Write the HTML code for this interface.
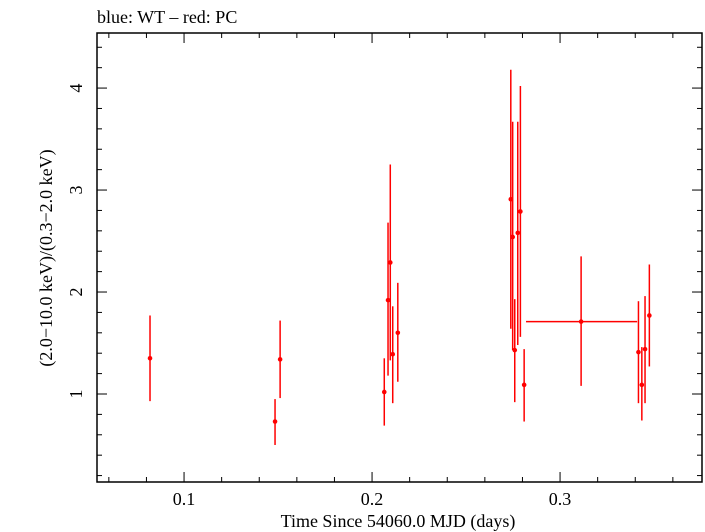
<!DOCTYPE html>
<html><head><meta charset="utf-8"><style>
body{margin:0;background:#fff}
svg{display:block;font-family:"Liberation Serif",serif}
</style></head><body>
<svg id="chart" width="705" height="532">
<text x="97" y="23" font-size="18">blue: WT – red: PC</text>
<rect x="97" y="33" width="605" height="449" fill="none" stroke="#000" stroke-width="1.5"/>
<g id="axes"></g>
<g id="marks"></g>
<text x="398" y="527" font-size="18" text-anchor="middle">Time Since 54060.0 MJD (days)</text>
<text transform="translate(52,258) rotate(-90)" font-size="18" text-anchor="middle">(2.0−10.0 keV)/(0.3−2.0 keV)</text>
</svg>
<script>
const times=[0.0819,0.1484,0.1511,0.2065,0.2085,0.2097,0.2110,0.2137,0.2738,0.2748,0.2759,0.2775,0.2789,0.2809,0.3112,0.3417,0.3435,0.3452,0.3475];
const tLo=[0.0814,0.1479,0.1506,0.2060,0.2080,0.2092,0.2105,0.2132,0.2733,0.2743,0.2754,0.2770,0.2784,0.2804,0.2819,0.3412,0.3430,0.3447,0.3470];
const tHi=[0.0824,0.1489,0.1516,0.2070,0.2090,0.2102,0.2115,0.2142,0.2743,0.2753,0.2764,0.2780,0.2794,0.2814,0.3410,0.3422,0.3440,0.3457,0.3480];
const ratio=[1.35,0.73,1.34,1.02,1.92,2.29,1.39,1.60,2.91,2.54,1.43,2.58,2.79,1.09,1.71,1.41,1.09,1.44,1.77];
const rLo=[0.93,0.50,0.96,0.69,1.18,1.33,0.91,1.12,1.64,1.43,0.92,1.48,1.56,0.73,1.08,0.91,0.74,0.91,1.27];
const rHi=[1.77,0.95,1.72,1.35,2.68,3.25,1.86,2.09,4.18,3.67,1.93,3.67,4.02,1.44,2.35,1.91,1.46,1.96,2.27];
const xTicks=[0.1,0.2,0.3];
const xTickLabels=["0.1","0.2","0.3"];
const yTicks=[1,2,3,4];
const yTickLabels=["1","2","3","4"];
const L=97,R=702,T=33,B=482;
const xMin=0.0537,xMax=0.3755,yMin=0.137,yMax=4.54;
const X=v=>L+(v-xMin)/(xMax-xMin)*(R-L);
const Y=v=>B-(v-yMin)/(yMax-yMin)*(B-T);
const NS="http://www.w3.org/2000/svg";
function mk(tag,attrs,parent){const e=document.createElementNS(NS,tag);for(const k in attrs)e.setAttribute(k,attrs[k]);parent.appendChild(e);return e;}
const ax=document.getElementById('axes'),mg=document.getElementById('marks');
for(let v=0.06;v<=0.3751;v+=0.02){const vv=Math.round(v*100)/100;const major=Math.abs(vv*10-Math.round(vv*10))<1e-6;const len=major?10:5;const x=X(vv);
const t1=mk('line',{x1:x,x2:x,y1:B,y2:B-len,stroke:'#000','stroke-width':1},ax);


const t2=mk('line',{x1:x,x2:x,y1:T,y2:T+len,stroke:'#000','stroke-width':1},ax);

}
xTicks.forEach((v,i)=>{const t=mk('text',{x:X(v),y:B+23,'font-size':18,'text-anchor':'middle'},ax);t.textContent=xTickLabels[i];

});
for(let v=0.2;v<=4.5;v+=0.2){const vv=Math.round(v*10)/10;const major=Math.abs(vv-Math.round(vv))<1e-6;const len=major?10:5;const y=Y(vv);
const t1=mk('line',{x1:L,x2:L+len,y1:y,y2:y,stroke:'#000','stroke-width':1},ax);


const t2=mk('line',{x1:R,x2:R-len,y1:y,y2:y,stroke:'#000','stroke-width':1},ax);

}
yTicks.forEach((v,i)=>{const y=Y(v);const t=mk('text',{x:0,y:0,'font-size':18,'text-anchor':'middle',transform:`translate(${L-15},${y}) rotate(-90)`},ax);t.textContent=yTickLabels[i];

});
times.forEach((t,i)=>{
const g=mk('g',{},mg);


mk('line',{x1:X(t),x2:X(t),y1:Y(rLo[i]),y2:Y(rHi[i]),stroke:'#f00','stroke-width':1.5},g);
mk('line',{x1:X(tLo[i]),x2:X(tHi[i]),y1:Y(ratio[i]),y2:Y(ratio[i]),stroke:'#f00','stroke-width':1.5},g);
mk('circle',{cx:X(t),cy:Y(ratio[i]),r:2.3,fill:'#f00'},g);
});
</script>
</body></html>
